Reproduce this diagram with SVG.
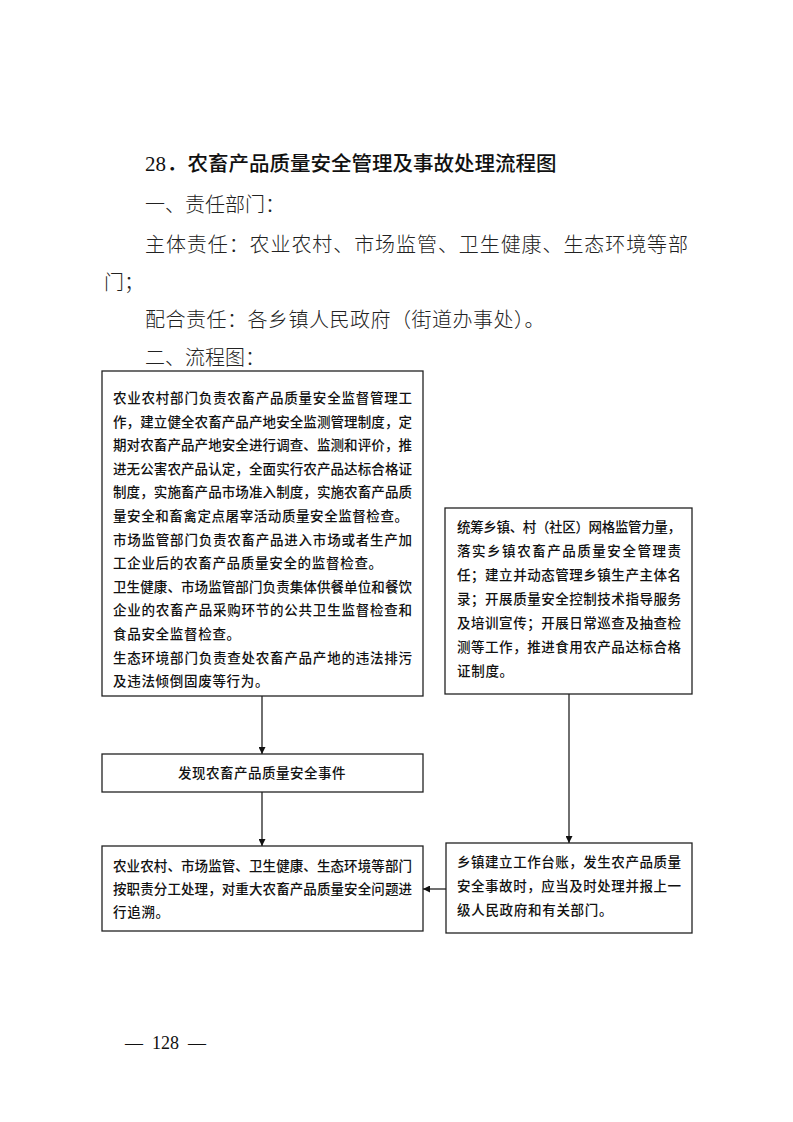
<svg xmlns="http://www.w3.org/2000/svg" width="793" height="1122" viewBox="0 0 793 1122">
<style>
.bg{fill:#fff}
.box{fill:#fff;stroke:#222;stroke-width:1.3}
.h{font-family:"Noto Sans CJK SC",sans-serif;font-size:20.5px;fill:#111;font-weight:500}
.b{font-family:"Noto Sans CJK SC",sans-serif;font-size:20px;fill:#222;font-weight:300}
.t{font-family:"Noto Sans CJK SC",sans-serif;font-size:13.5px;fill:#111;font-weight:500}
.pn{font-family:"Liberation Serif",serif;font-size:18px;fill:#111}
.con{stroke:#222;stroke-width:1.3;fill:none}
</style>
<defs>
<marker id="ah" viewBox="0 0 10 10" refX="10" refY="5" markerWidth="7" markerHeight="7" markerUnits="userSpaceOnUse" orient="auto">
<path d="M0,0 L10,5 L0,10 z" fill="#111"/>
</marker>
</defs>
<rect class="bg" width="793" height="1122"/>
<g id="header">
<text class="h" x="145" y="171"><tspan font-family="Liberation Serif" font-weight="normal" font-size="21">28</tspan><tspan dx="1">．农畜产品质量安全管理及事故处理流程图</tspan></text>
<text class="b" x="145" y="212">一、责任部门：</text>
<text class="b" x="145" y="252" textLength="543" lengthAdjust="spacing">主体责任：农业农村、市场监管、卫生健康、生态环境等部</text>
<text class="b" x="104" y="290">门；</text>
<text class="b" x="145" y="327" letter-spacing="0.5">配合责任：各乡镇人民政府（街道办事处）。</text>
<text class="b" x="145" y="365">二、流程图：</text>
</g>
<g id="n1">
<rect class="box" x="102" y="371" width="321" height="325"/>
<text class="t" x="113" y="403" textLength="299" lengthAdjust="spacing">农业农村部门负责农畜产品质量安全监督管理工</text>
<text class="t" x="113" y="426.6" textLength="299" lengthAdjust="spacing">作，建立健全农畜产品产地安全监测管理制度，定</text>
<text class="t" x="113" y="450.2" textLength="299" lengthAdjust="spacing">期对农畜产品产地安全进行调查、监测和评价，推</text>
<text class="t" x="113" y="473.8" textLength="299" lengthAdjust="spacing">进无公害农产品认定，全面实行农产品达标合格证</text>
<text class="t" x="113" y="497.4" textLength="299" lengthAdjust="spacing">制度，实施畜产品市场准入制度，实施农畜产品质</text>
<text class="t" x="113" y="521" textLength="295" lengthAdjust="spacing">量安全和畜禽定点屠宰活动质量安全监督检查。</text>
<text class="t" x="113" y="544.6" textLength="299" lengthAdjust="spacing">市场监管部门负责农畜产品进入市场或者生产加</text>
<text class="t" x="113" y="568.2" letter-spacing="0.7">工企业后的农畜产品质量安全的监督检查。</text>
<text class="t" x="113" y="591.8" textLength="299" lengthAdjust="spacing">卫生健康、市场监管部门负责集体供餐单位和餐饮</text>
<text class="t" x="113" y="615.4" textLength="299" lengthAdjust="spacing">企业的农畜产品采购环节的公共卫生监督检查和</text>
<text class="t" x="113" y="639" letter-spacing="0.7">食品安全监督检查。</text>
<text class="t" x="113" y="662.6" textLength="299" lengthAdjust="spacing">生态环境部门负责查处农畜产品产地的违法排污</text>
<text class="t" x="113" y="686.2" letter-spacing="0.7">及违法倾倒固废等行为。</text>
</g>
<g id="n2">
<rect class="box" x="445" y="508" width="247" height="186"/>
<text class="t" x="457" y="532" textLength="224" lengthAdjust="spacing">统筹乡镇、村（社区）网格监管力量，</text>
<text class="t" x="457" y="556" textLength="224" lengthAdjust="spacing">落实乡镇农畜产品质量安全管理责</text>
<text class="t" x="457" y="580" textLength="224" lengthAdjust="spacing">任；建立并动态管理乡镇生产主体名</text>
<text class="t" x="457" y="604" textLength="224" lengthAdjust="spacing">录；开展质量安全控制技术指导服务</text>
<text class="t" x="457" y="628" textLength="224" lengthAdjust="spacing">及培训宣传；开展日常巡查及抽查检</text>
<text class="t" x="457" y="652" textLength="224" lengthAdjust="spacing">测等工作，推进食用农产品达标合格</text>
<text class="t" x="457" y="676" letter-spacing="0.7">证制度。</text>
</g>
<g id="n3">
<rect class="box" x="102" y="754" width="321" height="38"/>
<text class="t" x="262" y="778" text-anchor="middle" letter-spacing="0.5">发现农畜产品质量安全事件</text>
</g>
<g id="n4">
<rect class="box" x="102" y="846" width="321" height="85"/>
<text class="t" x="113" y="871" textLength="299" lengthAdjust="spacing">农业农村、市场监管、卫生健康、生态环境等部门</text>
<text class="t" x="113" y="894" textLength="299" lengthAdjust="spacing">按职责分工处理，对重大农畜产品质量安全问题进</text>
<text class="t" x="113" y="917" letter-spacing="0.7">行追溯。</text>
</g>
<g id="n5">
<rect class="box" x="446" y="843" width="246" height="90"/>
<text class="t" x="457" y="867" textLength="224" lengthAdjust="spacing">乡镇建立工作台账，发生农产品质量</text>
<text class="t" x="457" y="891" textLength="224" lengthAdjust="spacing">安全事故时，应当及时处理并报上一</text>
<text class="t" x="457" y="915" letter-spacing="0.7">级人民政府和有关部门。</text>
</g>
<g id="connectors">
<line class="con" x1="262" y1="696" x2="262" y2="754" marker-end="url(#ah)"/>
<line class="con" x1="262" y1="792" x2="262" y2="846" marker-end="url(#ah)"/>
<line class="con" x1="569" y1="694" x2="569" y2="843" marker-end="url(#ah)"/>
<line class="con" x1="446" y1="889" x2="423" y2="889" marker-end="url(#ah)"/>
</g>
<g id="footer">
<text class="pn" x="125" y="1049">—<tspan dx="9">128</tspan><tspan dx="9">—</tspan></text>
</g>
</svg>
